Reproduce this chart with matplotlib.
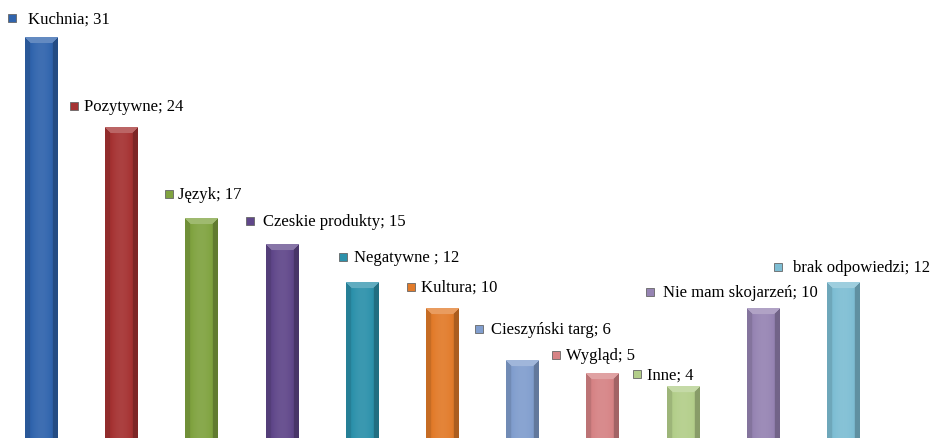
import numpy as np
import matplotlib
matplotlib.use("Agg")
import matplotlib.pyplot as plt
from matplotlib.colors import to_rgb
from matplotlib.transforms import offset_copy

# dane
kategorie = ["Kuchnia", "Pozytywne", "Język", "Czeskie produkty", "Negatywne ",
             "Kultura", "Cieszyński targ", "Wygląd", "Inne",
             "Nie mam skojarzeń", "brak odpowiedzi"]
wartosci = [31, 24, 17, 15, 12, 10, 6, 5, 4, 10, 12]
kolory = ["#3064ad", "#a53232", "#80a340", "#60478a", "#2c91ab", "#e27b2a",
          "#819ece", "#d68385", "#b3ce8a", "#9684b3", "#7ebed4"]

# przesuniecia etykiet (piksele) wzgledem wierzcholka slupka
off_x = [-29, -47, -32, -32, -19, -31, -43, -46, -46, -113, -65]
off_y = [19, 22, 24, 23, 26, 22, 31, 18, 12, 17, 16]
odstep = [16, 10, 9, 13, 11, 10, 12, 10, 10, 13, 15]

plt.rcParams['font.family'] = ['Liberation Serif', 'DejaVu Serif']

fig = plt.figure(figsize=(9.31, 4.39), dpi=100)
ax = fig.add_axes([0, 0, 1, 1])
ax.set_xlim(-0.511, 11.097)
ax.set_ylim(0, 33.95)
ax.axis('off')

szer = 0.4
px_per_unit = 439 / 33.95


def slupek(i, v, kolor):
    base = np.array(to_rgb(kolor))
    H = max(int(v * px_per_unit), 8)
    W = 32
    img = np.zeros((H, W, 3))
    prof = 0.85 + 0.22 * np.sin(np.linspace(0, np.pi, W)) ** 0.7
    for r in range(H):
        for c in range(W):
            f = prof[c]
            if r < 6 and c >= r and c < W - r:
                f = 1.25
            elif c < 5 and r > c:
                f = 0.88
            elif c >= W - 5 and r > W - 1 - c:
                f = 0.76
            col = base * f
            if f > 1:
                col = base + (1 - base) * (f - 1)
            img[r, c] = np.clip(col, 0, 1)
    ax.imshow(img, extent=[i - szer / 2, i + szer / 2, 0, v],
              aspect='auto', interpolation='bilinear', zorder=2)


for i, (k, v, kol) in enumerate(zip(kategorie, wartosci, kolory)):
    slupek(i, v, kol)
    tr = offset_copy(ax.transData, fig=fig, x=off_x[i], y=off_y[i], units='dots')
    ax.plot(i, v, 's', transform=tr, ms=6, mfc=kol, mec='#666666', mew=0.6,
            zorder=3)
    ax.annotate(f"{k}; {v}", (i, v), xytext=(off_x[i] + odstep[i], off_y[i]),
                textcoords='offset pixels', ha='left', va='center',
                fontsize=12, color='black')

fig.savefig("out.png", dpi=100)
